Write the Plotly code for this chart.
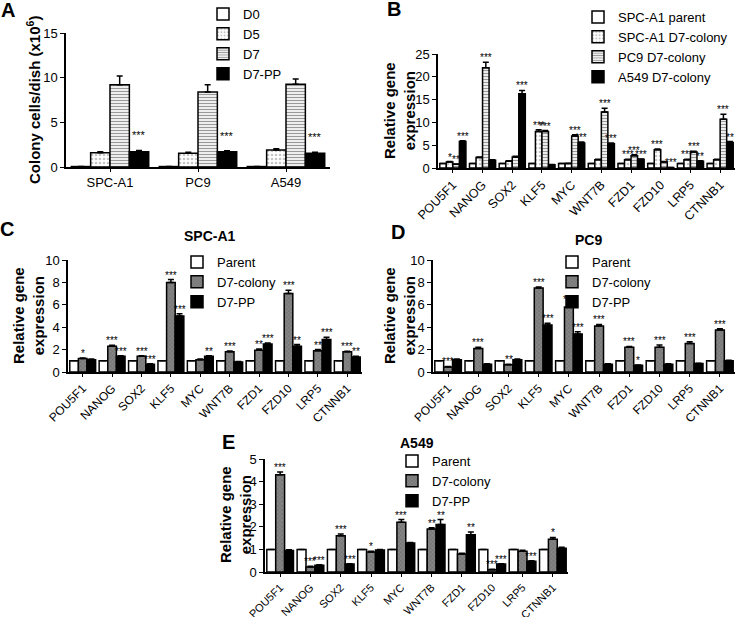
import plotly.graph_objects as go

FONT = "Arial, Liberation Sans, sans-serif"
W, H = 738, 617
BARGAP = 0.12

# ---------------- data ----------------
cells = ["SPC-A1", "PC9", "A549"]
A_d0 = [0.05, 0.05, 0.05]
A_d0_err = [0, 0, 0]
A_d5 = [1.6, 1.55, 1.9]
A_d5_err = [0.1, 0.1, 0.15]
A_d7 = [9.2, 8.4, 9.25]
A_d7_err = [1.0, 0.8, 0.6]
A_pp = [1.7, 1.7, 1.55]
A_pp_err = [0.15, 0.12, 0.1]
A_pp_stars = ["***", "***", "***"]

genes = ["POU5F1", "NANOG", "SOX2", "KLF5", "MYC", "WNT7B", "FZD1", "FZD10", "LRP5", "CTNNB1"]

B_parent = [1, 1, 1, 1, 1, 1, 1, 1, 1, 1]
B_spc = [1.3, 2.3, 1.5, 8.0, 1.0, 1.8, 1.8, 4.0, 1.8, 1.8]
B_spc_err = [0.1, 0.1, 0.1, 0.4, 0.05, 0.1, 0.1, 0.15, 0.1, 0.1]
B_pc9 = [0.8, 22.0, 2.4, 8.0, 7.0, 12.3, 2.7, 1.3, 3.5, 10.7]
B_pc9_err = [0.05, 1.2, 0.15, 0.2, 0.3, 0.8, 0.2, 0.1, 0.2, 1.1]
B_a549 = [5.8, 1.7, 16.3, 0.7, 5.5, 5.3, 1.9, 0.1, 1.5, 5.6]
B_a549_err = [0.2, 0.1, 0.7, 0.05, 0.2, 0.2, 0.1, 0.02, 0.1, 0.2]
B_spc_stars = ["*", "", "", "***", "", "", "***", "***", "***", ""]
B_pc9_stars = ["**", "***", "", "***", "***", "***", "***", "", "***", "***"]
B_a549_stars = ["***", "", "***", "", "***", "***", "***", "***", "**", "**"]

C_parent = [1, 1, 1, 1, 1, 1, 1, 1, 1, 1]
C_col = [1.2, 2.3, 1.4, 8.0, 1.1, 1.8, 1.95, 7.0, 1.9, 1.8]
C_col_err = [0.05, 0.08, 0.05, 0.25, 0.05, 0.08, 0.1, 0.3, 0.1, 0.05]
C_pp = [1.1, 1.4, 0.7, 5.0, 1.4, 0.9, 2.5, 2.3, 2.9, 1.35]
C_pp_err = [0.05, 0.05, 0.03, 0.2, 0.05, 0.03, 0.1, 0.15, 0.2, 0.05]
C_col_stars = ["*", "***", "***", "***", "", "***", "**", "***", "**", "***"]
C_pp_stars = ["", "***", "***", "***", "**", "", "***", "**", "***", "**"]

D_parent = [1, 1, 1, 1, 1, 1, 1, 1, 1, 1]
D_col = [0.45, 2.1, 0.65, 7.5, 5.8, 4.1, 2.2, 2.2, 2.55, 3.75]
D_col_err = [0.05, 0.1, 0.05, 0.1, 0.25, 0.15, 0.08, 0.2, 0.15, 0.12]
D_pp = [1.1, 0.7, 1.1, 4.2, 3.4, 0.7, 0.6, 0.7, 0.75, 1.0]
D_pp_err = [0.05, 0.03, 0.05, 0.15, 0.2, 0.03, 0.03, 0.03, 0.03, 0.05]
D_col_stars = ["***", "***", "**", "***", "***", "***", "***", "***", "***", "***"]
D_pp_stars = ["", "", "", "***", "***", "", "*", "", "", ""]

E_parent = [1, 1, 1, 1, 1, 1, 1, 1, 1, 1]
E_col = [4.3, 0.22, 1.6, 0.88, 2.2, 1.9, 0.8, 0.1, 0.92, 1.45]
E_col_err = [0.12, 0.03, 0.08, 0.04, 0.12, 0.06, 0.03, 0.02, 0.04, 0.08]
E_pp = [0.95, 0.3, 0.35, 0.97, 1.28, 2.1, 1.65, 0.35, 0.48, 1.05]
E_pp_err = [0.03, 0.02, 0.02, 0.03, 0.03, 0.22, 0.12, 0.02, 0.02, 0.04]
E_col_stars = ["***", "***", "***", "*", "***", "**", "", "***", "", "*"]
E_pp_stars = ["", "***", "***", "", "", "**", "**", "***", "***", ""]

# ---------------- styles ----------------
WHITE = dict(color="white")
DOTS = dict(color="white", pattern=dict(shape=".", fgcolor="#8c8c8c", bgcolor="white", size=4, solidity=0.35))
STRIPES = dict(color="white", pattern=dict(shape="-", fgcolor="#333333", bgcolor="white", size=3, solidity=0.45))
GREY = dict(color="#7a7a7a", pattern=dict(shape="x", fgcolor="#4a4a4a", bgcolor="#858585", size=3, solidity=0.3))
BLACK = dict(color="black")

fig = go.Figure()


def px(x):
    return x / W


def py(y):
    return 1 - y / H


def add_bar(name, cats, vals, err, ax, legend, style):
    n = "" if ax == 1 else str(ax)
    marker = dict(style)
    marker["line"] = dict(color="black", width=1.5)
    fig.add_trace(go.Bar(
        name=name, x=cats, y=vals, xaxis="x" + n, yaxis="y" + n,
        legend=legend, marker=marker,
        error_y=dict(type="data", array=err, arrayminus=[0] * len(err), symmetric=False,
                     color="black", thickness=1.5, width=3),
    ))


def add_stars(vals, err, stars, i, nbars, ax, size=10, yshift=-3):
    n = "" if ax == 1 else str(ax)
    w = 1 - BARGAP
    off = -w / 2 + (i + 0.5) * w / nbars
    for k, (v, e, s) in enumerate(zip(vals, err, stars)):
        if s:
            fig.add_annotation(x=k + off, y=v + e, xref="x" + n, yref="y" + n, text=s,
                               showarrow=False, xanchor="center", yanchor="bottom", yshift=yshift,
                               font=dict(size=size, color="black", family=FONT))


# Panel A
add_bar("D0", cells, A_d0, A_d0_err, 1, "legend", WHITE)
add_bar("D5", cells, A_d5, A_d5_err, 1, "legend", DOTS)
add_bar("D7", cells, A_d7, A_d7_err, 1, "legend", STRIPES)
add_bar("D7-PP", cells, A_pp, A_pp_err, 1, "legend", BLACK)
add_stars(A_pp, A_pp_err, A_pp_stars, 3, 4, 1, size=11, yshift=7)

# Panel B
add_bar("SPC-A1 parent", genes, B_parent, [0] * 10, 2, "legend2", WHITE)
add_bar("SPC-A1 D7-colony", genes, B_spc, B_spc_err, 2, "legend2", DOTS)
add_bar("PC9 D7-colony", genes, B_pc9, B_pc9_err, 2, "legend2", STRIPES)
add_bar("A549 D7-colony", genes, B_a549, B_a549_err, 2, "legend2", BLACK)
add_stars(B_spc, B_spc_err, B_spc_stars, 1, 4, 2)
add_stars(B_pc9, B_pc9_err, B_pc9_stars, 2, 4, 2)
add_stars(B_a549, B_a549_err, B_a549_stars, 3, 4, 2)

# Panels C, D, E
for ax, leg, par, col, colerr, pp, pperr, cs, ps in [
    (3, "legend3", C_parent, C_col, C_col_err, C_pp, C_pp_err, C_col_stars, C_pp_stars),
    (4, "legend4", D_parent, D_col, D_col_err, D_pp, D_pp_err, D_col_stars, D_pp_stars),
    (5, "legend5", E_parent, E_col, E_col_err, E_pp, E_pp_err, E_col_stars, E_pp_stars),
]:
    add_bar("Parent", genes, par, [0] * 10, ax, leg, WHITE)
    add_bar("D7-colony", genes, col, colerr, ax, leg, GREY)
    add_bar("D7-PP", genes, pp, pperr, ax, leg, BLACK)
    add_stars(col, colerr, cs, 1, 3, ax)
    add_stars(pp, pperr, ps, 2, 3, ax)

# ---------------- axes ----------------
panels = {
    1: dict(x=(66, 330), y=(167, 33), rng=15, dtick=5, ncat=3, angle=0, tsize=13),
    2: dict(x=(438, 735), y=(168, 54), rng=25, dtick=5, ncat=10, angle=-45, tsize=12.5),
    3: dict(x=(68, 362), y=(372, 260), rng=10, dtick=2, ncat=10, angle=-45, tsize=12),
    4: dict(x=(433, 735), y=(372, 260), rng=10, dtick=2, ncat=10, angle=-45, tsize=12),
    5: dict(x=(265, 568), y=(572, 459), rng=5, dtick=1, ncat=10, angle=-45, tsize=11),
}
layout_axes = {}
for k, p in panels.items():
    n = "" if k == 1 else str(k)
    layout_axes["xaxis" + n] = dict(
        domain=[px(p["x"][0]), px(p["x"][1])], anchor="y" + n, automargin=False,
        range=[-0.5, p["ncat"] - 0.5], showline=True, linecolor="black", linewidth=1.5,
        ticks="outside", ticklen=3, tickcolor="black", tickwidth=1.2, tickangle=p["angle"],
        showgrid=False, zeroline=False, tickfont=dict(size=p["tsize"], color="black"),
        fixedrange=True)
    layout_axes["yaxis" + n] = dict(
        domain=[py(p["y"][0]), py(p["y"][1])], anchor="x" + n, automargin=False,
        range=[0, p["rng"]], dtick=p["dtick"], showline=True, linecolor="black", linewidth=1.5,
        ticks="outside", ticklen=4, tickcolor="black", tickwidth=1.2,
        showgrid=False, zeroline=False, tickfont=dict(size=13, color="black"),
        fixedrange=True)

legend_base = dict(xanchor="left", yanchor="top", bgcolor="rgba(0,0,0,0)",
                   font=dict(size=13, color="black", family=FONT), tracegroupgap=0, itemwidth=30)

fig.update_layout(
    width=W, height=H, margin=dict(l=0, r=0, t=0, b=0, autoexpand=False),
    paper_bgcolor="white", plot_bgcolor="white",
    font=dict(family=FONT, color="black"),
    barmode="group", bargap=BARGAP, bargroupgap=0.0,
    legend=dict(legend_base, x=px(203), y=py(-1)),
    legend2=dict(legend_base, x=px(578), y=py(2)),
    legend3=dict(legend_base, x=px(177), y=py(247)),
    legend4=dict(legend_base, x=px(552), y=py(247)),
    legend5=dict(legend_base, x=px(392), y=py(446)),
    **layout_axes,
)

# panel letters, titles, y-axis titles
for letter, x, y in [("A", 8, 10), ("B", 394, 9), ("C", 7, 229), ("D", 398, 232), ("E", 228, 442)]:
    fig.add_annotation(x=px(x), y=py(y), xref="paper", yref="paper", text="<b>%s</b>" % letter,
                       xanchor="center", yanchor="middle",
                       showarrow=False, font=dict(size=20, color="black"))
for title, x, y in [("SPC-A1", 210, 236), ("PC9", 588, 240), ("A549", 417, 443)]:
    fig.add_annotation(x=px(x), y=py(y), xref="paper", yref="paper", text="<b>%s</b>" % title,
                       xanchor="center", yanchor="middle",
                       showarrow=False, font=dict(size=14, color="black"))
for title, x, y in [
    ("Colony cells/dish (x10<sup>6</sup>)", 33, 100),
    ("Relative gene<br>expression", 399, 111),
    ("Relative gene<br>expression", 28, 316),
    ("Relative gene<br>expression", 399, 316),
    ("Relative gene<br>expression", 235, 515),
]:
    fig.add_annotation(x=px(x), y=py(y), xref="paper", yref="paper", text="<b>%s</b>" % title,
                       xanchor="center", yanchor="middle",
                       textangle=-90, showarrow=False, font=dict(size=15, color="black"))

# page body has an 8px default margin; drop it so the figure fills the window
fig.write_html("out.html", config={"displayModeBar": False},
               post_script="document.body.style.margin='0';")
